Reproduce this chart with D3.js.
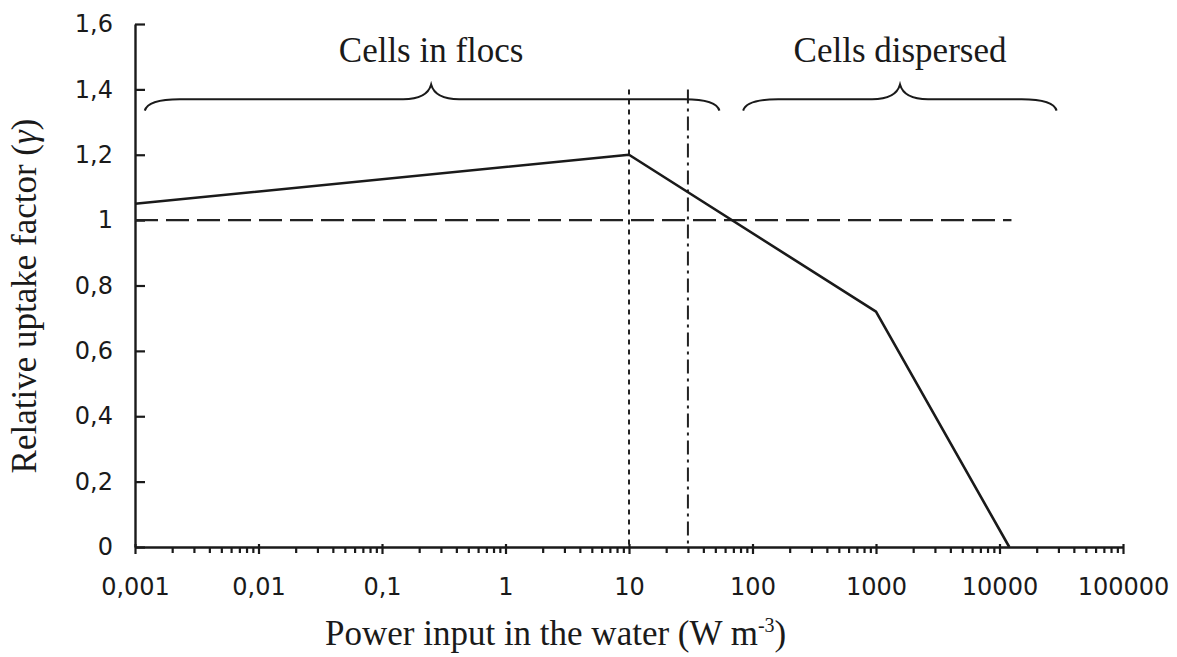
<!DOCTYPE html>
<meta charset="utf-8">
<script src="https://d3js.org/d3.v7.min.js"></script>
<style>
  body { margin: 0; background: #fff; }
  .tick text { font-family: "DejaVu Sans", Verdana, sans-serif; font-size: 24px; fill: #1a1a1a; }
  .serif { font-family: "Liberation Serif", "Times New Roman", serif; font-size: 35px; fill: #1a1a1a; }
</style>
<body>
<div id="my_dataviz"></div>
<script>

// curve: relative uptake factor vs power input
var powerInput = [0.001, 10, 1000, 12000];
var uptakeFactor = [1.05, 1.2, 0.72, 0];

// reference level (gamma = 1) and the two limits
var referenceLevel = 1;
var referenceFrom = 0.001, referenceTo = 12500;
var flocLimit = 10;
var transitionLimit = 30;
var limitTop = 1.4;

// braces above the plot
var regimeNames = ["Cells in flocs", "Cells dispersed"];
var braceFrom = [0.0012, 84];
var braceTo = [54, 29000];
var braceTip = [0.25, 1565];
var braceLevel = 1.37, braceTipLevel = 1.415, braceEndLevel = 1.335;

// ticks
var xTickValues = [0.001, 0.01, 0.1, 1, 10, 100, 1000, 10000, 100000];
var xTickLabels = ["0,001", "0,01", "0,1", "1", "10", "100", "1000", "10000", "100000"];
var yTickValues = [0, 0.2, 0.4, 0.6, 0.8, 1, 1.2, 1.4, 1.6];
var yTickLabels = ["0", "0,2", "0,4", "0,6", "0,8", "1", "1,2", "1,4", "1,6"];

var margin = { top: 24, right: 54, bottom: 110, left: 135 },
  width = 1177 - margin.left - margin.right,
  height = 657 - margin.top - margin.bottom;

var root = d3.select("#my_dataviz")
  .append("svg")
  .attr("width", 1177)
  .attr("height", 657);

var svg = root.append("g")
  .attr("transform", "translate(" + margin.left + "," + margin.top + ")");

var x = d3.scaleLog()
  .domain([0.001, 100000])
  .range([0, width]);

var y = d3.scaleLinear()
  .domain([0, 1.6])
  .range([height, 0]);

var ink = "#1a1a1a";

// minor x ticks
var minorTicks = [];
xTickValues.slice(0, -1).forEach(function (d) {
  for (var k = 2; k <= 9; k++) minorTicks.push(d * k);
});
svg.append("g")
  .attr("transform", "translate(0," + height + ")")
  .call(d3.axisBottom(x).tickValues(minorTicks).tickSize(6).tickFormat(""))
  .call(function (g) { g.select(".domain").remove(); })
  .selectAll("line").attr("stroke", ink).attr("stroke-width", 2.2);

// X axis
var xAxis = svg.append("g")
  .attr("transform", "translate(0," + height + ")")
  .call(d3.axisBottom(x)
    .tickValues(xTickValues)
    .tickSize(7)
    .tickSizeOuter(0)
    .tickPadding(24)
    .tickFormat(function (d, i) { return xTickLabels[i]; }));
xAxis.select(".domain").attr("stroke", ink).attr("stroke-width", 2.4);
xAxis.selectAll(".tick line").attr("stroke", ink).attr("stroke-width", 2.2).attr("y1", -3);

// Y axis
var yAxis = svg.append("g")
  .call(d3.axisLeft(y)
    .tickValues(yTickValues)
    .tickSize(7)
    .tickSizeOuter(0)
    .tickPadding(15)
    .tickFormat(function (d, i) { return yTickLabels[i]; }));
yAxis.select(".domain").attr("stroke", ink).attr("stroke-width", 2.4);
yAxis.selectAll(".tick line").attr("stroke", ink).attr("stroke-width", 2.2).attr("x2", 10);

// reference line gamma = 1
svg.append("line")
  .attr("x1", x(referenceFrom)).attr("x2", x(referenceTo))
  .attr("y1", y(referenceLevel)).attr("y2", y(referenceLevel))
  .attr("stroke", "#222").attr("stroke-width", 2.2)
  .attr("stroke-dasharray", "23,8");

// vertical limits
svg.append("line")
  .attr("x1", x(flocLimit)).attr("x2", x(flocLimit))
  .attr("y1", y(limitTop)).attr("y2", y(0))
  .attr("stroke", "#222").attr("stroke-width", 2)
  .attr("stroke-dasharray", "5,5");
svg.append("line")
  .attr("x1", x(transitionLimit)).attr("x2", x(transitionLimit))
  .attr("y1", y(limitTop)).attr("y2", y(0))
  .attr("stroke", "#222").attr("stroke-width", 2)
  .attr("stroke-dasharray", "14,5,3,5");

// the curve
var line = d3.line()
  .x(function (d, i) { return x(powerInput[i]); })
  .y(function (d) { return y(d); });
svg.append("path")
  .datum(uptakeFactor)
  .attr("d", line)
  .attr("fill", "none")
  .attr("stroke", ink)
  .attr("stroke-width", 2.6)
  .attr("stroke-linejoin", "round");

// braces
function bracePath(i) {
  var x0 = x(braceFrom[i]), x1 = x(braceTo[i]), xt = x(braceTip[i]);
  var yl = y(braceLevel), yt = y(braceTipLevel), ye = y(braceEndLevel);
  return "M" + x0 + "," + ye +
    " Q" + (x0 + 3) + "," + yl + " " + (x0 + 35) + "," + yl +
    " L" + (xt - 28) + "," + yl +
    " Q" + (xt - 4) + "," + yl + " " + xt + "," + yt +
    " Q" + (xt + 4) + "," + yl + " " + (xt + 28) + "," + yl +
    " L" + (x1 - 35) + "," + yl +
    " Q" + (x1 - 3) + "," + yl + " " + x1 + "," + ye;
}
regimeNames.forEach(function (name, i) {
  svg.append("path")
    .attr("d", bracePath(i))
    .attr("fill", "none")
    .attr("stroke", ink)
    .attr("stroke-width", 2);
  svg.append("text")
    .attr("class", "serif")
    .attr("x", x(braceTip[i]))
    .attr("y", 62 - margin.top)
    .attr("text-anchor", "middle")
    .text(name);
});

// axis labels
var xl = root.append("text")
  .attr("class", "serif")
  .attr("x", 325)
  .attr("y", 645);
xl.append("tspan").text("Power input in the water (W m");
xl.append("tspan").attr("font-size", "20px").attr("dy", -13).text("-3");
xl.append("tspan").attr("dy", 13).text(")");

var yl = root.append("text")
  .attr("class", "serif")
  .attr("transform", "translate(36,296) rotate(-90)")
  .attr("text-anchor", "middle");
yl.append("tspan").text("Relative uptake factor (");
yl.append("tspan").attr("font-style", "italic").text("\u03b3");
yl.append("tspan").text(")");

</script>
</body>
